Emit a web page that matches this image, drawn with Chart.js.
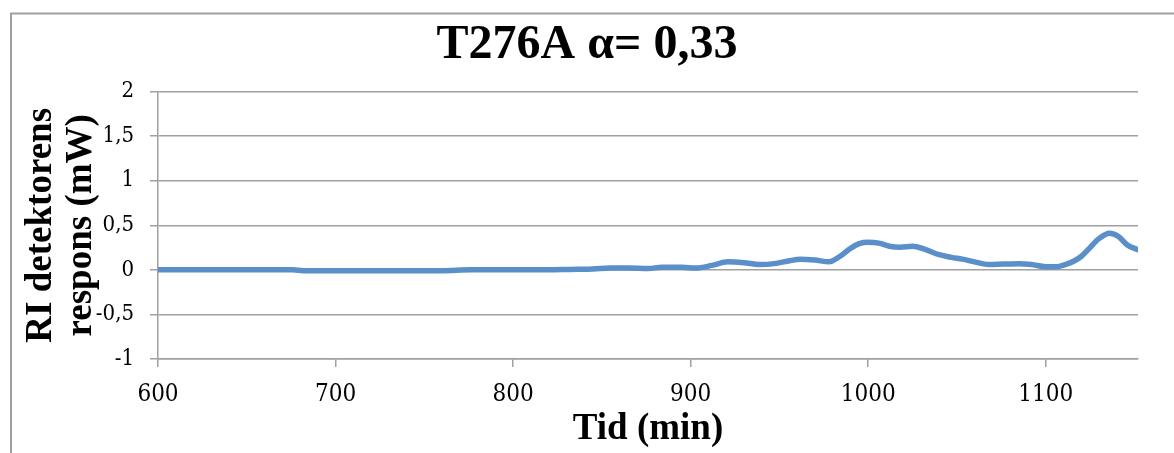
<!DOCTYPE html>
<html>
<head>
<meta charset="utf-8">
<script src="https://cdn.jsdelivr.net/npm/chart.js@4"></script>
<style>
  html, body { margin: 0; padding: 0; background: #ffffff; }
  #wrap { width: 1174px; height: 453px; position: relative; }
</style>
</head>
<body>
<div id="wrap"><canvas id="c" width="1174" height="453"></canvas></div>
<script>
// ---- data ----
const chartTitle = 'T276A α= 0,33';
const xTitle = 'Tid (min)';
const yTitle = ['RI detektorens', 'respons (mW)'];
const timeMin = [600, 620, 640, 660, 676, 682, 700, 720, 740, 760, 776, 800, 820, 832, 845, 855, 865, 876, 884, 895, 903, 912, 921, 930, 939, 947, 955, 962, 970, 978, 984, 990, 995, 1000, 1006, 1012, 1018, 1025, 1032, 1040, 1047, 1053, 1060, 1068, 1076, 1085, 1092, 1100, 1106, 1111, 1116, 1120, 1125, 1130, 1136, 1141, 1146, 1152];
const response = [0, 0, 0, 0, 0, -0.01, -0.01, -0.01, -0.01, -0.01, 0, 0, 0, 0.005, 0.01, 0.02, 0.02, 0.015, 0.03, 0.03, 0.02, 0.05, 0.09, 0.08, 0.06, 0.07, 0.1, 0.12, 0.11, 0.09, 0.15, 0.24, 0.295, 0.31, 0.3, 0.265, 0.255, 0.265, 0.23, 0.17, 0.14, 0.12, 0.09, 0.06, 0.065, 0.07, 0.06, 0.035, 0.035, 0.06, 0.1, 0.15, 0.25, 0.35, 0.41, 0.375, 0.28, 0.225];
const xTickStep = 100;
const yTickStep = 0.5;

const points = timeMin.map((t, i) => ({ x: t, y: response[i] }));

const frame = {
  id: 'frame',
  beforeDraw(chart) {
    const ctx = chart.ctx;
    ctx.save();
    ctx.strokeStyle = '#a0a0a0';
    ctx.lineWidth = 2;
    ctx.strokeRect(11, 13.5, 1400, 700);
    ctx.restore();
  }
};

const tickFamily = "'DejaVu Serif Condensed', 'DejaVu Serif', serif";

new Chart(document.getElementById('c'), {
  type: 'line',
  data: {
    datasets: [{
      data: points,
      borderColor: '#5A8FC9',
      borderWidth: 5.5,
      pointRadius: 0,
      fill: false,
      cubicInterpolationMode: 'monotone',
      borderCapStyle: 'round',
      borderJoinStyle: 'round'
    }]
  },
  options: {
    responsive: false,
    animation: false,
    layout: { padding: 0 },
    plugins: {
      legend: { display: false },
      tooltip: { enabled: false },
      title: {
        display: true,
        text: chartTitle,
        color: '#000',
        font: { family: 'Liberation Serif', size: 48, weight: 'bold', lineHeight: 1.2 },
        padding: { top: 17, bottom: 17 }
      }
    },
    scales: {
      x: {
        type: 'linear',
        min: 600,
        max: 1152,
        afterFit(s) { s.height = 94; },
        ticks: {
          stepSize: xTickStep,
          includeBounds: false,
          color: '#000',
          padding: 13,
          maxRotation: 0,
          font: { family: tickFamily, size: 24 },
          callback: v => String(v)
        },
        grid: { display: true, drawOnChartArea: false, drawTicks: true, tickLength: 8, color: '#a0a0a0', lineWidth: 1.5 },
        border: { display: true, color: '#a0a0a0', width: 1.5 },
        title: {
          display: true,
          text: xTitle,
          color: '#000',
          font: { family: 'Liberation Serif', size: 37, weight: 'bold', lineHeight: 1.08 },
          padding: { top: 0, bottom: 4 }
        }
      },
      y: {
        type: 'linear',
        min: -1,
        max: 2,
        afterFit(s) { s.width = 158; },
        ticks: {
          stepSize: yTickStep,
          color: '#000',
          padding: 16,
          font: { family: tickFamily, size: 22 },
          callback: v => String(v).replace('.', ',')
        },
        grid: { color: '#a0a0a0', lineWidth: 1.5, tickLength: 8 },
        border: { display: true, color: '#a0a0a0', width: 1.5 },
        title: {
          display: true,
          text: yTitle,
          color: '#000',
          font: { family: 'Liberation Serif', size: 37, weight: 'bold', lineHeight: 1.08 },
          padding: { top: 21, bottom: 0 }
        }
      },
      yRight: {
        type: 'linear',
        position: 'right',
        display: true,
        afterFit(s) { s.width = 36; },
        ticks: { display: false },
        grid: { display: false },
        border: { display: false }
      }
    }
  },
  plugins: [frame]
});
</script>
</body>
</html>
